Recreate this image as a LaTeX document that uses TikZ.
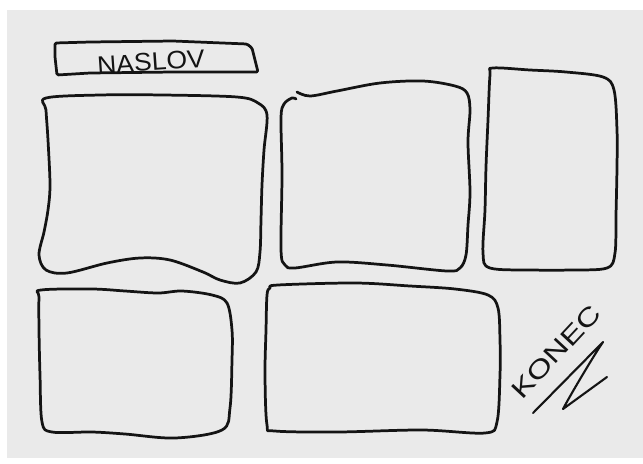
\documentclass[tikz,border=0pt]{standalone}
\usepackage{fontspec}
\setsansfont{Liberation Sans}
\usepackage{xcolor}
\usepackage{tikz}

\definecolor{PaperGray}{RGB}{234,234,234}
\definecolor{InkBlack}{RGB}{20,20,20}
\tikzset{
  panel/.style={draw=InkBlack, line width=3.9pt, line join=round, line cap=round},
  pen/.style={draw=InkBlack, line width=3pt, line join=round, line cap=round},
  scrawl/.style={font=\sffamily\fontsize{36}{36}\selectfont, text=InkBlack, inner sep=0pt}
}

\begin{document}
\begin{tikzpicture}[x=0.05cm, y=-0.05cm]
  \useasboundingbox (0,0) rectangle (643,463);

  % Paper
  \fill[PaperGray] (7,10) rectangle (643,458);

  % Title box
  \draw[panel, rounded corners=2pt]
    (55,43) -- (90,42) -- (173,41) -- (247,44) -- (252,48) -- (258,72)
    -- (173,72) -- (90,73) -- (57,75) -- (55,57) -- cycle;
  \node[scrawl, rotate=4, xscale=1.05] (naslov) at (151,62) {NASLOV};

  % Top row
  \draw[panel] plot[smooth cycle, tension=0.55] coordinates {
    (46,98) (100,95) (163,95) (237,97) (258,103) (267,115) (264,150)
    (262,185) (261,220) (260,252) (256,272) (240,283) (220,280) (203,272)
    (170,260) (140,258) (107,263) (67,273) (46,270) (39,255) (44,232)
    (48,210) (50,185) (48,140) (46,110)};
  \draw[panel] plot[smooth, tension=0.55] coordinates {
    (297,92) (310,96) (337,91) (380,83) (423,81) (455,86) (467,93)
    (470,110) (468,142) (470,192) (468,225) (466,255) (460,268) (447,271)
    (387,265) (337,262) (295,268) (285,265) (281,250) (282,175) (281,118)
    (284,104) (292,98) (296,99)};
  \draw[panel] plot[smooth cycle, tension=0.55] coordinates {
    (493,68) (530,70) (566,72) (603,77) (614,90) (617,130) (617,167)
    (616,215) (615,253) (607,268) (570,270) (533,270) (490,268) (483,253)
    (485,210) (486,167) (488,120) (490,75)};

  % Bottom row
  \draw[panel] plot[smooth cycle, tension=0.55] coordinates {
    (41,290) (92,289) (125,291) (158,293) (182,291) (212,295) (227,303)
    (232,330) (232,360) (230,408) (222,430) (175,438) (125,434) (92,432)
    (52,432) (42,422) (40,375) (39,330) (39,297)};
  \draw[panel] plot[smooth cycle, tension=0.55] coordinates {
    (278,285) (355,283) (410,286) (455,289) (488,295) (498,308) (500,340)
    (500,375) (497,422) (485,433) (422,430) (338,432) (275,431) (267,425)
    (265,375) (266,330) (267,295) (270,288)};

  % End mark
  \node[scrawl, rotate=47, xscale=1.3] (konec) at (556,352) {KONEC};
  \draw[pen] (533,413) -- (603,342)
    .. controls (596,352) and (572,392) .. (563,409) -- (607,377);
\end{tikzpicture}
\end{document}
